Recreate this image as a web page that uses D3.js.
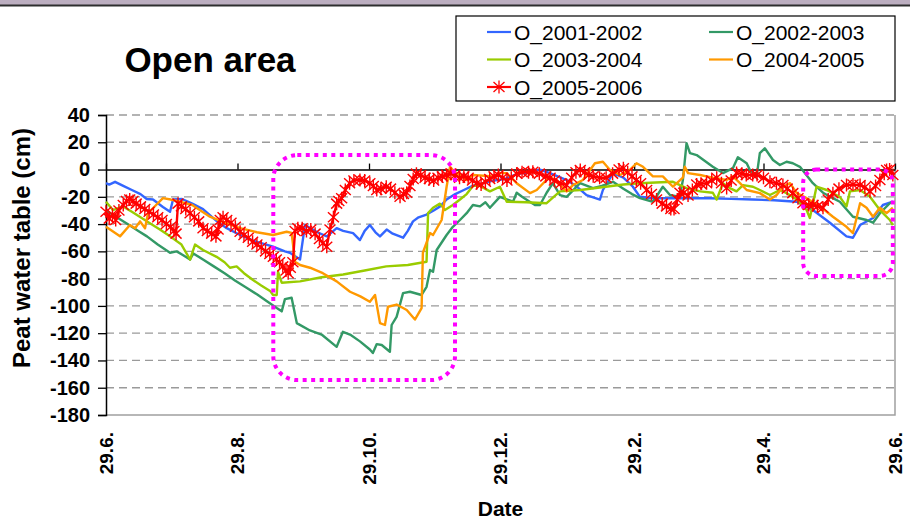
<!DOCTYPE html>
<html>
<head>
<meta charset="utf-8">
<script src="https://cdn.jsdelivr.net/npm/d3@7"></script>
<style>
   body { margin: 0; background: #fff; }
   svg { display: block; font-family: Arial, "Liberation Sans", sans-serif; }
</style>
</head>
<body>
<div id="chart"></div>
<script>
// peat water table (cm) per season, x = days after 29.6.
const o0102 = [[0,-10],[1.5,-11],[4.2,-9],[8,-12],[12,-15],[16,-18],[18.9,-21.6],[21.8,-22],[26.4,-27.5],[29.7,-31],[31.1,-22],[35.3,-21.6],[40,-25],[45,-29],[51.5,-38],[56,-43],[62.2,-48],[68,-52],[77.5,-56.6],[83,-60],[85.3,-61],[90,-66],[92.3,-40.7],[95,-43],[98,-46],[102.4,-49],[104,-47],[107,-43],[110,-45],[114.6,-46.6],[117.8,-51.7],[120,-45],[122.4,-40.7],[125,-46],[127.1,-49],[130.2,-44],[133,-47],[137.8,-50],[140,-45],[142.4,-38],[145,-35],[148.7,-33],[152,-30],[155,-27],[158,-22],[162,-18],[166,-15],[170,-12],[175,-10],[180,-8],[185,-7],[187.4,-5],[192,-3],[196,-2],[201.3,0],[205.9,-2.6],[213.7,-7.7],[218,-12],[222.9,-18.7],[229.1,-22],[230.5,-15],[235.2,-2.6],[240,-6],[244.4,-12.6],[247.7,-20],[253.7,-21],[263,-21],[270.9,-21],[280,-21],[290,-21.5],[300,-22],[310,-22.5],[320.4,-23.6],[327.9,-29.7],[335.8,-39],[343.5,-49],[346.5,-50],[349.8,-40.7],[355.8,-35.5],[360.4,-26],[365,-23.6]];

const o0203 = [[0,-30],[5,-35],[10,-40],[15,-45],[19,-49],[24,-55],[29.7,-61],[32.8,-60],[36,-63],[39,-66],[40.5,-61.5],[45,-66],[50,-71],[55,-76],[60,-81.5],[65,-86.5],[70,-91.5],[75,-97],[79.2,-101.6],[81.5,-104],[83,-95],[86.1,-94],[88.5,-112.6],[94.6,-118],[100,-121],[107,-130],[109.9,-119],[113.2,-121],[117.8,-126],[122.4,-132],[123.8,-134.6],[125.6,-128],[127.9,-128.7],[131.7,-133.6],[132.5,-114],[134.8,-108],[137.8,-90.6],[141,-89.6],[146.4,-92],[148.7,-86],[150.3,-73.7],[151.7,-75],[153.4,-59],[158,-48],[160.9,-42],[164.2,-37],[167.3,-32],[170.2,-26],[173.5,-27],[176,-24],[178.1,-28],[182.7,-20],[188.8,-23.6],[190.5,-17],[193,-20],[196,-23],[199,-26],[201.3,-26],[204.4,-17],[207.3,-10],[210.6,-18.7],[213.7,-20],[219.9,-10],[225.9,-13.6],[230,-12],[235.2,-9],[240,-14],[244,-18],[247.7,-21],[253.7,-23.6],[258.3,-12.6],[261.6,-18.7],[266.2,-20],[267.6,-7.7],[269.3,19.4],[270.9,12],[274,10.6],[281.5,2],[286.2,-2.6],[290.8,1],[293.1,9],[297.2,4.6],[298.7,-0.3],[301.8,-5],[303.3,12],[305.6,15.6],[309.4,7],[312.6,3.3],[315.7,5.7],[318.6,4.6],[321.9,2],[327.9,-10],[332.6,-17],[337.2,-21],[340.4,-23.6],[346.5,-34.6],[352.8,-37],[355.8,-39],[359,-32],[363.6,-24.7],[365,-23.6]];

const o0304 = [[0,-23.6],[3.2,-29.7],[7.9,-27],[12,-31],[16,-35],[20,-39],[25,-44],[29.7,-49],[35,-55],[39,-66],[41.3,-55],[45,-59],[51.3,-64],[55,-68],[57.5,-72],[60.6,-71],[64,-76],[68.2,-81],[72,-85],[76.1,-89],[77.5,-92],[79.2,-92],[79.8,-75],[81.5,-83],[90,-82],[100,-79],[110,-77],[120,-74],[130,-71],[140,-70],[148.7,-67.6],[149.4,-32],[151.7,-28],[154.9,-25],[157.2,-29.7],[160.9,-26],[164.2,-22],[167.3,-18],[170.2,-12],[173.5,-12],[178.1,-16],[182.7,-12.6],[185.9,-23.6],[195,-24],[204.4,-24.7],[210.6,-16],[220,-15],[230,-13],[240,-11],[247.7,-10],[255,-9.5],[263,-9],[269.3,-13.6],[275.6,-16],[281.5,-17],[283.3,-22],[286.2,-10],[289.4,-13.6],[292.5,-16],[295.5,-11.4],[300.1,-12.6],[303.3,-15],[308,-18.7],[312.6,-15],[315.7,-17.3],[320.4,-22],[325,-29.7],[326.5,-35.5],[329.6,-12.6],[334.3,-15],[340.4,-20],[343.5,-27],[345.1,-16],[349.8,-15],[354.4,-20],[359,-29.7],[363.6,-37],[365,-40.7]];

const o0405 = [[0,-42],[6.5,-49],[11.1,-40.7],[13.5,-43],[15.8,-38],[18.1,-43],[19.5,-32],[22,-28],[26.4,-21],[30,-22],[34.3,-23.6],[40,-26],[48.2,-34.6],[55,-39],[62.2,-43],[70,-46],[77.5,-48],[83.8,-45.6],[86.1,-46.4],[87.7,-67.6],[90,-70],[94.6,-72],[100.6,-76],[107,-82],[113.2,-89.6],[118,-93],[122.4,-97],[124.8,-92],[127.1,-112.6],[129.4,-114],[130.8,-100.6],[134.8,-99],[139.5,-103],[143.3,-110],[146.4,-101.6],[147,-61],[150.3,-46.6],[151.7,-48],[155.7,-37],[158,-12.6],[159.6,2],[160.9,-0.3],[162.7,-2.6],[167.3,-7.7],[170.2,-4],[179.5,-5],[182.7,-2.6],[185.9,-2.6],[190.5,-10],[196.7,-17.3],[199.8,-15],[205.9,-5],[210.6,-11.4],[213.7,-16],[216.6,-11.4],[221.2,-7.7],[226.8,4.6],[230.5,5.7],[233.8,-0.3],[238.4,-4],[243,-0.3],[246.1,4.6],[249.1,2],[253.7,-5],[258.3,-5],[263,-12.6],[267.6,-6],[268.5,2],[270,-2.6],[275.6,-4],[278.6,-5],[281.5,-6],[287.9,-7.7],[290.8,-5],[294.1,-10],[297.2,-15],[303.3,-17.3],[308,-22],[311.1,-18.7],[314,-12.6],[317.3,-10],[320.4,-17.3],[325,-21],[331.2,-27],[337.2,-34.6],[343.5,-42],[346.5,-46.6],[349.8,-24.7],[352.8,-28],[355.8,-34.6],[359,-28],[362.1,-32],[365,-28]];

const o0506 = [[0,-31],[1.5,-36],[3,-33],[4.5,-37],[6,-30],[8,-26],[9.5,-23],[11,-22],[12.5,-23],[14,-25],[16,-27],[18,-29],[20,-31],[22,-33],[24,-35],[26,-37],[28,-40],[30,-42],[31.5,-45],[32.5,-47],[33.4,-25],[35,-27],[37,-29],[39,-32],[41,-35],[43,-38],[45,-43],[47,-45],[49,-47],[51,-49],[52,-44],[53,-37],[54.3,-35],[56,-37],[58,-39],[60,-42],[62.2,-45.6],[64,-48],[66,-50],[68,-53],[70,-55],[72,-57],[74,-60],[76,-62],[77.6,-64],[79,-66],[80.5,-68],[82,-71],[83.5,-74],[84.5,-76],[85.5,-72],[86.7,-68],[87.7,-45],[89,-43],[91,-43],[93,-45],[95,-44],[97,-47],[99,-51],[100.6,-54],[102.4,-56.6],[103.9,-44],[105.5,-35],[107,-25],[108,-23],[109.3,-21],[111,-15],[113,-10],[115,-8],[117.8,-7.7],[120,-8],[122.4,-10],[124,-12],[125.6,-15],[127.5,-14],[130,-12.6],[132,-14],[134,-17],[136.4,-20],[138,-18],[139.5,-17],[141,-12],[142.5,-7],[144,-3],[146,-4],[148,-6],[150,-7],[152,-8],[154,-6],[156,-5],[158,-4],[160,-3],[162,-4],[164,-6],[166,-5],[168,-6],[170,-8],[172,-10],[174,-11],[176,-9],[178,-7],[180,-5],[182,-4],[184,-6],[186,-8],[188,-6],[190.5,-3],[193,-2],[196,-2],[198,-1.6],[201,-3],[204,-5],[206,-6],[208,-8],[211,-10],[213.7,-11.4],[216,-6],[218,-2],[220,-0.3],[222,-2],[224,-4],[226,-5],[229,-6],[232,-6],[235,-3],[238,0],[240,1],[242,-2],[244,-5],[246,-7.7],[248,-10],[250.8,-15],[253,-18],[255.4,-22],[258,-25],[260,-27],[262,-29],[263.5,-29],[265,-22],[266.2,-17],[268,-17],[270,-19],[272,-15],[274,-11],[276,-10.5],[278.6,-10],[281,-8],[283.3,-6],[285.5,-10],[287.9,-13.6],[290,-8],[292.5,-2.6],[295,-3],[297,-4],[300,-4],[302,-4],[305,-6],[308,-9],[311,-10],[314,-11.4],[316,-14],[318.6,-17.3],[321,-21],[323.3,-24.7],[326,-26],[328,-26],[330,-27],[332.6,-28],[335,-22],[337.2,-17.3],[340,-14],[343.5,-11.4],[346.5,-11],[349.8,-11.4],[352,-13],[354.4,-16],[357,-12],[359,-7.7],[361,-3],[362.1,-0.3],[363.5,0],[365,-4]];

const seriesNames = ["O_2001-2002", "O_2002-2003", "O_2003-2004", "O_2004-2005", "O_2005-2006"];
const seriesData = [o0102, o0203, o0304, o0405, o0506];
const seriesColors = ["#3366ff", "#339966", "#99cc00", "#ff9900", "#ff0000"];

const yTicks = [40, 20, 0, -20, -40, -60, -80, -100, -120, -140, -160, -180];
const xTickDates = ["2003-06-29", "2003-08-29", "2003-10-29", "2003-12-29", "2004-02-29", "2004-04-29", "2004-06-29"];

// dotted frames: [start day, end day, top cm, bottom cm]
const frameBoxes = [[77.6, 161.9, 10.6, -154.4], [323.4, 365, 0, -78]];

const width = 910, height = 526;
const margin = { top: 115, right: 15, bottom: 111, left: 106 };

const parseDate = d3.timeParse("%Y-%m-%d");
const t0 = parseDate(xTickDates[0]);
const dayToDate = (d) => new Date(t0.getTime() + d * 86400000);

const svg = d3.select("#chart")
   .append("svg")
   .attr("width", width)
   .attr("height", height);

svg.append("rect")
   .attr("width", width).attr("height", height).attr("fill", "#fff");

// strip of the slide background at the top
svg.append("rect")
   .attr("width", width).attr("height", 5).attr("fill", "#bcaec0");
svg.append("line")
   .attr("x1", 0).attr("x2", width).attr("y1", 5.5).attr("y2", 5.5)
   .attr("stroke", "#2e2e2e").attr("stroke-width", 2);

const x = d3.scaleTime()
   .domain([t0, parseDate(xTickDates[xTickDates.length - 1])])
   .range([margin.left, width - margin.right]);

const y = d3.scaleLinear()
   .domain([-180, 40])
   .range([height - margin.bottom, margin.top]);

// gridlines
svg.append("g")
   .selectAll("line")
   .data(yTicks.filter((v) => v !== 0 && v !== -180))
   .enter()
   .append("line")
   .attr("x1", x.range()[0]).attr("x2", x.range()[1])
   .attr("y1", (d) => y(d)).attr("y2", (d) => y(d))
   .attr("stroke", "#9a9a9a")
   .attr("stroke-width", 1.3)
   .attr("stroke-dasharray", "8,5");

// plot border (bottom + right)
svg.append("path")
   .attr("d", `M${x.range()[0]},${y(-180)}H${x.range()[1]}V${y(40)}`)
   .attr("fill", "none")
   .attr("stroke", "#a0a0a0")
   .attr("stroke-width", 1.5);

// y axis
const yAxis = svg.append("g")
   .attr("transform", `translate(${margin.left},0)`)
   .call(d3.axisLeft(y).tickValues(yTicks).tickSize(8).tickPadding(8).tickFormat((d) => d));
yAxis.select(".domain").attr("stroke", "#000").attr("stroke-width", 1.5);
yAxis.selectAll(".tick line").attr("stroke", "#000").attr("stroke-width", 1.3);
yAxis.selectAll("text")
   .attr("fill", "#000")
   .style("font-size", "20px")
   .style("font-weight", "bold")
   .style("font-family", "Arial, 'Liberation Sans', sans-serif");

// x axis crossing at 0
const tickDates = xTickDates.map(parseDate);
const xAxis = svg.append("g")
   .attr("transform", `translate(0,${y(0)})`)
   .call(d3.axisTop(x).tickValues(tickDates).tickSize(6).tickSizeOuter(0).tickFormat(""));
xAxis.select(".domain").attr("stroke", "#000").attr("stroke-width", 1.5);
xAxis.selectAll(".tick line").attr("stroke", "#000").attr("stroke-width", 1.3);

// x labels at the bottom, rotated
const fmt = d3.timeFormat("%-d.%-m.");
svg.append("g")
   .selectAll("text")
   .data(tickDates)
   .enter()
   .append("text")
   .attr("transform", (d) => `translate(${x(d)},${y(-180) + 17}) rotate(-90)`)
   .attr("text-anchor", "end")
   .attr("dy", "0.36em")
   .style("font-size", "19px")
   .style("font-weight", "bold")
   .text((d) => fmt(d));

// series lines
const line = d3.line()
   .x((d) => x(dayToDate(d[0])))
   .y((d) => y(d[1]));

svg.append("g")
   .selectAll("path")
   .data(seriesData)
   .enter()
   .append("path")
   .attr("d", (d) => line(d))
   .attr("fill", "none")
   .attr("stroke", (d, i) => seriesColors[i])
   .attr("stroke-width", 2.4)
   .attr("stroke-linejoin", "round");

// star markers of the last season
const star = "M0,-6.5V6.5M-5.5,-5L5.5,5M-5.5,5L5.5,-5";
svg.append("g")
   .selectAll("path")
   .data(o0506)
   .enter()
   .append("path")
   .attr("transform", (d) => `translate(${x(dayToDate(d[0]))},${y(d[1])})`)
   .attr("d", star)
   .attr("stroke", seriesColors[4])
   .attr("stroke-width", 1.4)
   .attr("fill", "none");

// magenta dotted frames
svg.append("g")
   .selectAll("rect")
   .data(frameBoxes)
   .enter()
   .append("rect")
   .attr("x", (d) => x(dayToDate(d[0])))
   .attr("y", (d) => y(d[2]))
   .attr("width", (d) => x(dayToDate(d[1])) - x(dayToDate(d[0])))
   .attr("height", (d) => y(d[3]) - y(d[2]))
   .attr("rx", (d, i) => i === 0 ? 24 : 13)
   .attr("fill", "none")
   .attr("stroke", "#ff00ff")
   .attr("stroke-width", 4)
   .attr("stroke-dasharray", "4,4.5");

// title
svg.append("text")
   .attr("x", 210)
   .attr("y", 72)
   .attr("text-anchor", "middle")
   .style("font-size", "35px")
   .style("font-weight", "bold")
   .text("Open area");

// legend
const legend = svg.append("g");
legend.append("rect")
   .attr("x", 456).attr("y", 16)
   .attr("width", 439).attr("height", 85)
   .attr("fill", "#fff")
   .attr("stroke", "#000")
   .attr("stroke-width", 1.2);

const legendCols = [487, 709];
const legendRows = [32, 59.5, 87];
const entries = legend.selectAll("g.entry")
   .data(seriesNames)
   .enter()
   .append("g")
   .attr("class", "entry")
   .attr("transform", (d, i) => `translate(${legendCols[i % 2]},${legendRows[Math.floor(i / 2)]})`);

entries.append("line")
   .attr("x1", 0).attr("x2", 24)
   .attr("stroke", (d, i) => seriesColors[i])
   .attr("stroke-width", 2.2);

entries.filter((d, i) => i === 4)
   .append("path")
   .attr("transform", "translate(12,0)")
   .attr("d", star)
   .attr("stroke", seriesColors[4])
   .attr("stroke-width", 1.3);

entries.append("text")
   .attr("x", 27)
   .attr("dy", "0.36em")
   .style("font-size", "21px")
   .text((d) => d);

// axis titles
svg.append("text")
   .attr("transform", `translate(30,${(y(40) + y(-180)) / 2 - 17}) rotate(-90)`)
   .attr("text-anchor", "middle")
   .style("font-size", "24px")
   .style("font-weight", "bold")
   .text("Peat water table (cm)");

svg.append("text")
   .attr("x", (x.range()[0] + x.range()[1]) / 2)
   .attr("y", 516)
   .attr("text-anchor", "middle")
   .style("font-size", "21px")
   .style("font-weight", "bold")
   .text("Date");
</script>
</body>
</html>
